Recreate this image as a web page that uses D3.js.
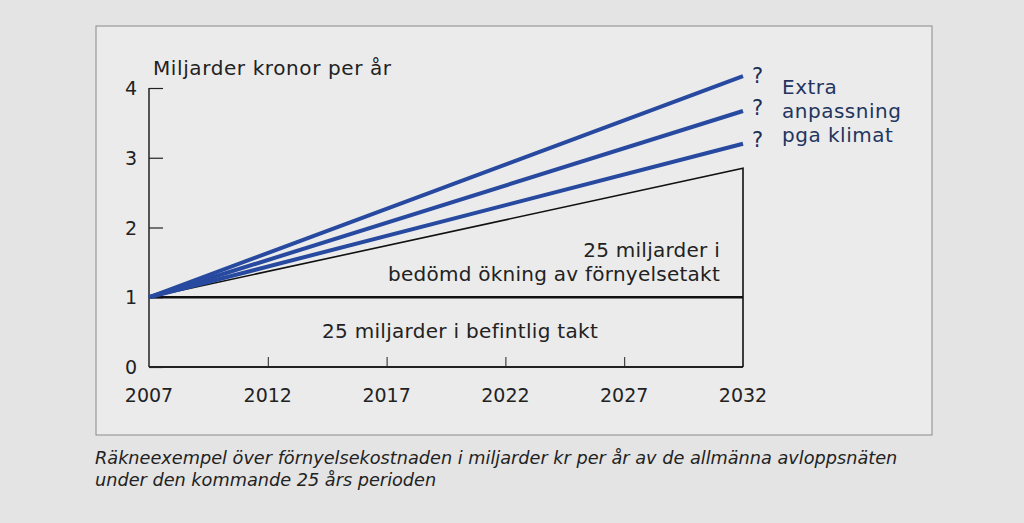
<!DOCTYPE html>
<html>
<head>
<meta charset="utf-8">
<script src="https://cdn.jsdelivr.net/npm/d3@7"></script>
<style>
  body { margin: 0; background: #e4e4e4; }
  #chart-area { width: 1024px; height: 523px; }
</style>
</head>
<body>
<div id="chart-area"></div>
<script>
var width = 1024;
var height = 523;

// data
var years = [2007, 2012, 2017, 2022, 2027, 2032];
var yTicks = [0, 1, 2, 3, 4];
var baseYear = 2007;
var endYear = 2032;
var baseLevel = 1;
var renewalEnd = 2.85;
var climateEnds = [4.17, 3.67, 3.2];
var climateLabels = ["Extra", "anpassning", "pga klimat"];
var captionLines = [
  "Räkneexempel över förnyelsekostnaden i miljarder kr per år av de allmänna avloppsnäten",
  "under den kommande 25 års perioden"
];

var svg = d3.select("#chart-area").append("svg")
    .attr("width", width)
    .attr("height", height);

svg.append("rect")
    .attr("width", width)
    .attr("height", height)
    .attr("fill", "#e4e4e4");

// frame
svg.append("rect")
    .attr("x", 96)
    .attr("y", 26)
    .attr("width", 836)
    .attr("height", 409)
    .attr("fill", "#ebebeb")
    .attr("stroke", "#8a8a8a")
    .attr("stroke-width", 1);

var x = d3.scaleLinear()
    .domain([baseYear, endYear])
    .range([149, 743]);

var y = d3.scaleLinear()
    .domain([0, 4])
    .range([367, 88]);

var font = "'DejaVu Sans', 'Open Sans', sans-serif";
var ink = "#222";

// y axis
var yAxis = d3.axisRight(y)
    .tickValues(yTicks)
    .tickSize(14)
    .tickFormat("");

svg.append("g")
    .attr("transform", "translate(" + x(baseYear) + ",0)")
    .call(yAxis)
    .call(g => g.selectAll("line").attr("stroke", ink).attr("stroke-width", 1.2))
    .call(g => g.select(".domain").attr("d", "M0," + y(4) + "V" + y(0)).attr("stroke", ink).attr("stroke-width", 1.5));

svg.selectAll(".ylabel")
    .data(yTicks)
    .enter().append("text")
    .attr("class", "ylabel")
    .attr("x", x(baseYear) - 12)
    .attr("y", d => y(d) + 7)
    .attr("text-anchor", "end")
    .attr("font-family", font)
    .attr("font-size", "19px")
    .attr("fill", ink)
    .text(d => d);

// x axis
var xAxis = d3.axisTop(x)
    .tickValues(years.slice(1, -1))
    .tickSize(10)
    .tickFormat("");

svg.append("g")
    .attr("transform", "translate(0," + y(0) + ")")
    .call(xAxis)
    .call(g => g.selectAll("line").attr("stroke", ink).attr("stroke-width", 1))
    .call(g => g.select(".domain").attr("d", "M" + x(baseYear) + ",0H" + x(endYear)).attr("stroke", ink).attr("stroke-width", 1.8));

svg.selectAll(".xlabel")
    .data(years)
    .enter().append("text")
    .attr("class", "xlabel")
    .attr("x", d => x(d))
    .attr("y", y(0) + 35)
    .attr("text-anchor", "middle")
    .attr("font-family", font)
    .attr("font-size", "19px")
    .attr("fill", ink)
    .text(d => d);

svg.append("text")
    .attr("x", 153)
    .attr("y", 75)
    .attr("font-family", font)
    .attr("font-size", "20px")
    .attr("letter-spacing", "0.6px")
    .attr("fill", ink)
    .text("Miljarder kronor per år");

var line = d3.line()
    .x(d => x(d[0]))
    .y(d => y(d[1]));

// base level
svg.append("path")
    .attr("d", line([[baseYear, baseLevel], [endYear, baseLevel]]))
    .attr("fill", "none")
    .attr("stroke", "#111")
    .attr("stroke-width", 2.4);

// renewal trend + closing vertical
svg.append("path")
    .attr("d", line([[baseYear, baseLevel], [endYear, renewalEnd], [endYear, 0]]))
    .attr("fill", "none")
    .attr("stroke", "#111")
    .attr("stroke-width", 1.6);

// climate lines
svg.selectAll(".climate")
    .data(climateEnds)
    .enter().append("path")
    .attr("class", "climate")
    .attr("d", d => line([[baseYear, baseLevel], [endYear, d]]))
    .attr("fill", "none")
    .attr("stroke", "#274aa0")
    .attr("stroke-width", 4);

svg.selectAll(".qmark")
    .data(climateEnds)
    .enter().append("text")
    .attr("class", "qmark")
    .attr("x", x(endYear) + 9)
    .attr("y", (d, i) => 83 + i * 32)
    .attr("font-family", font)
    .attr("font-size", "21px")
    .attr("fill", "#1e2d55")
    .text("?");

svg.selectAll(".clabel")
    .data(climateLabels)
    .enter().append("text")
    .attr("class", "clabel")
    .attr("x", 782)
    .attr("y", (d, i) => 94 + i * 24)
    .attr("font-family", font)
    .attr("font-size", "20px")
    .attr("letter-spacing", "0.5px")
    .attr("fill", "#23355f")
    .text(d => d);

svg.append("text")
    .attr("x", 720)
    .attr("y", 257)
    .attr("text-anchor", "end")
    .attr("font-family", font)
    .attr("font-size", "20px")
    .attr("letter-spacing", "0.25px")
    .attr("fill", ink)
    .text("25 miljarder i");

svg.append("text")
    .attr("x", 720)
    .attr("y", 281)
    .attr("text-anchor", "end")
    .attr("font-family", font)
    .attr("font-size", "20px")
    .attr("letter-spacing", "0.25px")
    .attr("fill", ink)
    .text("bedömd ökning av förnyelsetakt");

svg.append("text")
    .attr("x", 460)
    .attr("y", 338)
    .attr("text-anchor", "middle")
    .attr("font-family", font)
    .attr("font-size", "20px")
    .attr("letter-spacing", "0.3px")
    .attr("fill", ink)
    .text("25 miljarder i befintlig takt");

svg.selectAll(".caption")
    .data(captionLines)
    .enter().append("text")
    .attr("class", "caption")
    .attr("x", 95)
    .attr("y", (d, i) => 464 + i * 22)
    .attr("font-family", font)
    .attr("font-size", "17.7px")
    .attr("font-style", "italic")
    .attr("fill", "#222")
    .text(d => d);
</script>
</body>
</html>
